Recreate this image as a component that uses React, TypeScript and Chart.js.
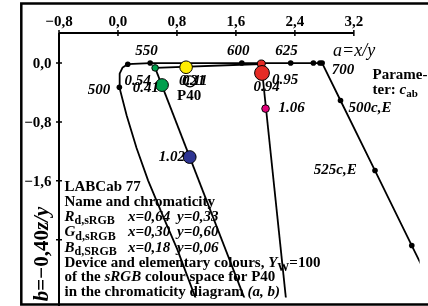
import React, { useEffect, useRef } from "react";
import { Chart, registerables } from "chart.js";

Chart.register(...registerables);

// ---- axis ticks ----
const xTickValues = [-0.8, 0, 0.8, 1.6, 2.4, 3.2];
const xTickLabels = ["\u22120,8", "0,0", "0,8", "1,6", "2,4", "3,2"];
const yTickValues = [0, -0.8, -1.6, -2.4];
const yTickLabels = ["0,0", "\u22120,8", "\u22121,6", ""];

// ---- spectral locus in (a = x/y, b = -0.40 z/y) ----
const locusA = [1.07, 0.805, 0.628, 0.408, 0.252, 0.119, 0.019, 0.023, 0.062, 0.133, 0.437, 1.68, 2.343, 2.651, 2.74, 2.77, 3.019, 3.487, 3.986, 4.146];
const locusB = [-3.239, -2.532, -2.12, -1.593, -1.155, -0.715, -0.329, -0.145, -0.062, -0.016, 0, 0, 0, 0, 0, 0, -0.509, -1.46, -2.479, -2.804];

const locusDotA = [0.019, 0.133, 0.437, 1.68, 2.343, 2.651, 2.74, 2.77, 3.019, 3.487, 3.986];
const locusDotB = [-0.329, -0.016, 0, 0, 0, 0, 0, 0, -0.509, -1.46, -2.479];

const locusNames = ["500", "550", "600", "625", "700", "500c,E", "525c,E"];
const locusNameA = [0.019, 0.437, 1.68, 2.343, 2.77, 3.019, 3.487];
const locusNameB = [-0.329, 0, 0, 0, 0, -0.509, -1.46];

// ---- sRGB triangle edges ----
const edgeGRa = [0.504, 1.945];
const edgeGRb = [-0.066, -0.013];
const edgeGBa = [0.504, 1.733];
const edgeGBb = [-0.066, -3.239];
const edgeRBa = [1.945, 2.283];
const edgeRBb = [-0.013, -3.239];

// ---- coloured samples ----
const sampleA = [0.504, 1.945, 0.924, 0.597, 1.954, 2.002, 0.973];
const sampleB = [-0.066, -0.013, -0.057, -0.299, -0.135, -0.619, -1.277];
const sampleColors = ["#009f4d", "#e62b25", "#ffec00", "#009f4d", "#e62b25", "#e2007a", "#2e3592"];
const sampleRadius = [3.3, 4, 6.3, 6.4, 7.4, 3.8, 6.4];

const p40A = [0.977];
const p40B = [-0.25];

// chroma labels and the sample they belong to (-1 = P40)
const chromaLabels = ["0.54", "0.41", "0.95", "0.94", "1.06", "1.02", "0.21", "0.11"];
const chromaAnchor = [3, 3, 4, 4, 5, 6, -1, -1];

const FONT = "'Liberation Serif', 'Times New Roman', serif";
const B15 = `bold 15px ${FONT}`;
const BI15 = `italic bold 15px ${FONT}`;
const B11 = `bold 11px ${FONT}`;
const B12 = `bold 12px ${FONT}`;

type Run = [string, string, number?];
function drawRuns(ctx: CanvasRenderingContext2D, x: number, y: number, runs: Run[]) {
  let cx = x;
  for (const [t, f, dy] of runs) {
    ctx.font = f;
    ctx.fillText(t, cx, y + (dy || 0));
    cx += ctx.measureText(t).width;
  }
  return cx;
}
function runsWidth(ctx: CanvasRenderingContext2D, runs: Run[]) {
  let w = 0;
  for (const [t, f] of runs) {
    ctx.font = f;
    w += ctx.measureText(t).width;
  }
  return w;
}

const pts = (a: number[], b: number[]) => a.map((v, i) => ({ x: v, y: b[i] }));

const deco = {
  id: "deco",
  afterDatasetsDraw(chart: any) {
    const ctx: CanvasRenderingContext2D = chart.ctx;
    const xs = chart.scales.x;
    const ys = chart.scales.y;
    const area = chart.chartArea;
    const W = chart.width;
    const H = chart.height;
    ctx.save();
    ctx.fillStyle = "#000";
    ctx.strokeStyle = "#000";

    // outer frame
    ctx.lineWidth = 2.5;
    ctx.beginPath();
    ctx.moveTo(W + 5, 3.5);
    ctx.lineTo(21.3, 3.5);
    ctx.lineTo(21.3, 304.6);
    ctx.lineTo(W + 5, 304.6);
    ctx.stroke();

    // axes
    const x0 = xs.getPixelForValue(xTickValues[0]);
    const x1 = xs.getPixelForValue(xTickValues[xTickValues.length - 1]);
    ctx.lineWidth = 2;
    ctx.beginPath();
    ctx.moveTo(x0, area.top);
    ctx.lineTo(x1, area.top);
    ctx.moveTo(area.left, area.top);
    ctx.lineTo(area.left, H);
    ctx.stroke();

    // ticks
    ctx.lineWidth = 1.5;
    ctx.beginPath();
    xTickValues.forEach((v) => {
      const px = xs.getPixelForValue(v);
      ctx.moveTo(px, area.top - 3);
      ctx.lineTo(px, area.top + 3);
    });
    yTickValues.forEach((v) => {
      const py = ys.getPixelForValue(v);
      ctx.moveTo(area.left - 3, py);
      ctx.lineTo(area.left + 3, py);
    });
    ctx.stroke();

    ctx.font = B15;
    ctx.textAlign = "center";
    ctx.textBaseline = "alphabetic";
    xTickValues.forEach((v, i) => {
      ctx.fillText(xTickLabels[i], xs.getPixelForValue(v), area.top - 7.5);
    });
    ctx.textAlign = "right";
    ctx.textBaseline = "middle";
    yTickValues.forEach((v, i) => {
      ctx.fillText(yTickLabels[i], area.left - 7.5, ys.getPixelForValue(v) + 1.5);
    });

    // y-axis title (rotated)
    const title: Run[] = [["b", `italic bold 21px ${FONT}`], ["=\u22120,40", `bold 21px ${FONT}`], ["z/y", `italic bold 21px ${FONT}`]];
    ctx.save();
    ctx.translate(48, 254);
    ctx.rotate(-Math.PI / 2);
    ctx.textAlign = "left";
    ctx.textBaseline = "alphabetic";
    const tw = runsWidth(ctx, title);
    drawRuns(ctx, -tw / 2, 0, title);
    ctx.restore();

    // axis name a=x/y
    ctx.textAlign = "left";
    ctx.textBaseline = "alphabetic";
    ctx.font = `italic 18px ${FONT}`;
    ctx.fillText("a=x/y", 333, 55.5);

    // Parameter note
    ctx.font = B15;
    ctx.fillText("Parame-", 372.5, 78.5);
    drawRuns(ctx, 372.5, 93.5, [["ter: ", B15], ["c", BI15], ["ab", B11, 3.5]]);

    // wavelength labels
    const wlOff: [number, number, CanvasTextAlign][] = [
      [-9, 2.7, "right"],
      [-3.6, -12, "center"],
      [-3.5, -12, "center"],
      [-4.2, -12, "center"],
      [9.7, 7, "left"],
      [8, 7.3, "left"],
      [-18.3, 0, "right"],
    ];
    ctx.font = BI15;
    ctx.textBaseline = "middle";
    locusNames.forEach((t, i) => {
      const px = xs.getPixelForValue(locusNameA[i]);
      const py = ys.getPixelForValue(locusNameB[i]);
      ctx.textAlign = wlOff[i][2];
      ctx.fillText(t, px + wlOff[i][0], py + wlOff[i][1]);
    });

    // chroma labels
    const chOff: [number, number][] = [
      [-37.6, -3.7],
      [-29.3, 3.3],
      [10, 7.4],
      [-8.4, 14],
      [13, 0],
      [-31, 0],
      [-11, 0],
      [-8, 0],
    ];
    ctx.textAlign = "left";
    chromaLabels.forEach((t, i) => {
      const k = chromaAnchor[i];
      const a = k < 0 ? p40A[0] : sampleA[k];
      const b = k < 0 ? p40B[0] : sampleB[k];
      ctx.fillText(t, xs.getPixelForValue(a) + chOff[i][0], ys.getPixelForValue(b) + chOff[i][1]);
    });
    ctx.font = B15;
    ctx.fillText("P40", xs.getPixelForValue(p40A[0]) - 13, ys.getPixelForValue(p40B[0]) + 15);

    // text block
    ctx.textBaseline = "alphabetic";
    ctx.textAlign = "left";
    const L = 64.5;
    ctx.font = B15;
    ctx.fillText("LABCab 77", L, 190.5);
    ctx.fillText("Name and chromaticity", L, 205.5);
    const rows: [string, string, string, string][] = [
      ["R", "d,sRGB", "x=0,64", "y=0,33"],
      ["G", "d,sRGB", "x=0,30", "y=0,60"],
      ["B", "d,SRGB", "x=0,18", "y=0,06"],
    ];
    const rowY = [220.5, 236, 251.5];
    rows.forEach((r, i) => {
      drawRuns(ctx, L, rowY[i], [[r[0], BI15], [r[1], B12, 3.5]]);
      ctx.font = BI15;
      ctx.fillText(r[2], 128, rowY[i]);
      ctx.fillText(r[3], 177, rowY[i]);
    });
    drawRuns(ctx, L, 266.5, [["Device and elementary colours, ", B15], ["Y", BI15], ["W", B12, 4], ["=100", B15]]);
    drawRuns(ctx, L, 281, [["of the ", B15], ["sRGB", BI15], [" colour space for P40", B15]]);
    drawRuns(ctx, L, 295.5, [["in the chromaticity diagram ", B15], ["(a, b)", BI15]]);

    ctx.restore();
  },
};

export default function App() {
  const ref = useRef<HTMLCanvasElement>(null);
  useEffect(() => {
    if (!ref.current) return;
    const line = (a: number[], b: number[]) => ({
      data: pts(a, b),
      showLine: true,
      borderColor: "#000",
      borderWidth: 1.8,
      pointRadius: 0,
      tension: 0,
      order: 10,
    });
    const chart = new Chart(ref.current, {
      type: "scatter",
      data: {
        datasets: [
          line(locusA, locusB),
          line(edgeGRa, edgeGRb),
          line(edgeGBa, edgeGBb),
          line(edgeRBa, edgeRBb),
          {
            data: pts(locusDotA, locusDotB),
            pointRadius: 2.8,
            pointBackgroundColor: "#000",
            pointBorderColor: "#000",
            pointBorderWidth: 0,
            order: 5,
          },
          {
            data: pts(sampleA, sampleB),
            pointRadius: sampleRadius,
            pointBackgroundColor: sampleColors,
            pointBorderColor: "#000",
            pointBorderWidth: 1,
            order: 2,
          },
          {
            data: pts(p40A, p40B),
            pointRadius: 5.5,
            pointBackgroundColor: "rgba(0,0,0,0)",
            pointBorderColor: "#000",
            pointBorderWidth: 1.3,
            order: 1,
          },
        ] as any,
      },
      options: {
        responsive: false,
        maintainAspectRatio: false,
        animation: false,
        events: [],
        layout: { padding: { left: 59, top: 33, right: 0, bottom: 0 } },
        plugins: { legend: { display: false }, tooltip: { enabled: false }, title: { display: false } },
        scales: {
          x: { type: "linear", min: -0.8, max: 4.092, display: false },
          y: { type: "linear", min: -3.186, max: 0.408, display: false },
        },
      },
      plugins: [deco],
    });
    return () => chart.destroy();
  }, []);
  return (
    <div style={{ position: "fixed", left: 0, top: 0, width: 428, height: 306, background: "#fff" }}>
      <canvas ref={ref} width={428} height={306} style={{ display: "block", width: 428, height: 306 }} />
    </div>
  );
}
